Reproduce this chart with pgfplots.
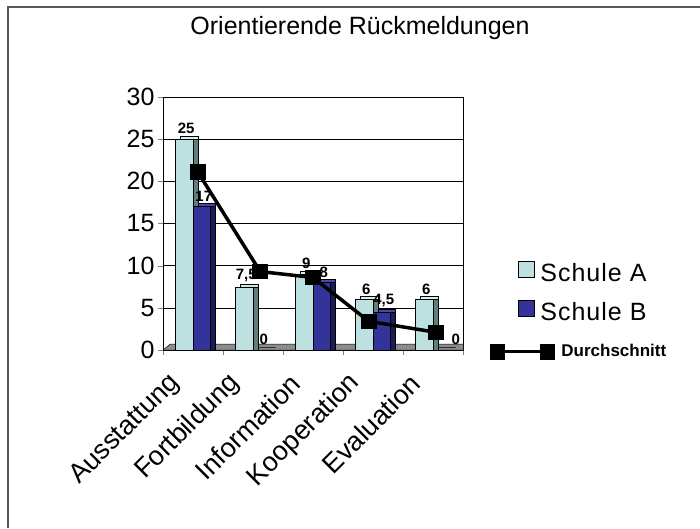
\documentclass[border=0pt]{standalone}
\usepackage{fontspec}
\setmainfont{Liberation Sans}
\newfontfamily\legendfont[LetterSpace=4]{Liberation Sans}
\usepackage{pgfplots}
\pgfplotsset{compat=1.18}
\definecolor{colA}{HTML}{BDE0E0}
\definecolor{colAside}{HTML}{5F7F7F}
\definecolor{colAtop}{HTML}{D6EEEE}
\definecolor{colB}{HTML}{333399}
\definecolor{colBside}{HTML}{1C1C5C}
\definecolor{colBtop}{HTML}{4848A8}
\definecolor{floorgray}{HTML}{8C8C8C}
\begin{document}
\begin{tikzpicture}[x=1pt,y=1pt]
\path[use as bounding box] (0,0) rectangle (700,528);
\draw[line width=1.5pt, black!65] (8,0) -- (8,521) -- (700,521);
\node[font=\fontsize{25}{28}\selectfont] at (360,500) {Orientierende Rückmeldungen};
\begin{axis}[
  at={(163pt,178pt)}, anchor=south west,
  scale only axis, width=300pt, height=253pt,
  xmin=-0.5, xmax=4.5, ymin=0, ymax=30,
  ytick={0,5,...,30},
  xtick={0,1,2,3,4},
  xticklabels={Ausstattung,Fortbildung,Information,Kooperation,Evaluation},
  minor xtick={-0.5,0.5,1.5,2.5,3.5,4.5},
  major x tick style={draw=none},
  minor tick length=5pt, major tick length=5pt,
  tick align=outside, tick pos=left,
  ymajorgrids,
  grid style={black, line width=0.6pt},
  axis line style={black, line width=0.8pt},
  /pgf/number format/assume math mode=true,
  /pgf/number format/use comma,
  yticklabel style={font=\fontsize{25}{25}\selectfont},
  xticklabel style={font=\fontsize{27}{27}\selectfont, rotate=45, anchor=east, xshift=-26pt, yshift=-5pt},
  nodes near coords style={font=\bfseries\fontsize{15}{15}\selectfont, inner sep=2pt, yshift=3pt, xshift=2pt},
  legend style={at={(axis description cs:1.173,0.362)}, anchor=north west, draw=none, fill=none,
    font=\fontsize{25}{28}\selectfont, row sep=15pt},
  legend cell align=left,
]
% floor
\addplot[fill=floorgray, draw=black, line width=0.4pt, forget plot] coordinates {(-0.5,0) (4.5,0) (4.58,0.7) (-0.38,0.7)} -- cycle;
% Schule A
\addplot[ybar, bar width=17.5pt, bar shift=-3.75pt, yshift=3pt, fill=colAtop, draw=black, line width=0.4pt, forget plot]
  coordinates {(0,25) (1,7.5) (2,9) (3,6) (4,6)};
\addplot[ybar, bar width=17.5pt, bar shift=-3.75pt, fill=colAside, draw=black, line width=0.4pt, forget plot]
  coordinates {(0,25) (1,7.5) (2,9) (3,6) (4,6)};
\addplot[ybar, bar width=17.5pt, bar shift=-8.75pt, fill=colA, draw=black, line width=0.4pt,
  legend image code/.code={\path[draw=none,fill=none] (0pt,-4pt) rectangle (20pt,12pt);
    \draw[fill=colA, draw=black, line width=0.6pt] (0pt,-4pt) rectangle (16pt,12pt);}]
  coordinates {(0,25) (1,7.5) (2,9) (3,6) (4,6)};
\addlegendentry{\legendfont Schule A}
% Schule B
\addplot[ybar, bar width=17.5pt, bar shift=13.75pt, yshift=3pt, fill=colBtop, draw=black, line width=0.4pt, forget plot]
  coordinates {(0,17) (1,0) (2,8) (3,4.5) (4,0)};
\addplot[ybar, bar width=17.5pt, bar shift=13.75pt, fill=colBside, draw=black, line width=0.4pt, forget plot]
  coordinates {(0,17) (1,0) (2,8) (3,4.5) (4,0)};
\addplot[ybar, bar width=17.5pt, bar shift=8.75pt, fill=colB, draw=black, line width=0.4pt,
  legend image code/.code={\path[draw=none,fill=none] (0pt,-4pt) rectangle (20pt,12pt);
    \draw[fill=colB, draw=black, line width=0.6pt] (0pt,-4pt) rectangle (16pt,12pt);}]
  coordinates {(0,17) (1,0) (2,8) (3,4.5) (4,0)};
\addlegendentry{\legendfont Schule B}
% Durchschnitt
\addplot[black, line width=3.5pt, mark=square*, mark size=6pt, mark options={solid},
  legend image code/.code={\path[draw=none,fill=none] (0pt,-4pt) rectangle (20pt,12pt);
    \draw[overlay, black, line width=3pt] (-21pt,-1pt) -- (29pt,-1pt);
    \fill[overlay, black] (-27pt,-7pt) rectangle (-15pt,5pt);
    \fill[overlay, black] (23pt,-7pt) rectangle (35pt,5pt);}]
  coordinates {(0.08,21.1) (1.12,9.3) (2.0,8.6) (2.93,3.4) (4.05,2.1)};
\addlegendentry{\hspace{21pt}\bfseries\fontsize{17}{20}\selectfont Durchschnitt}
% value labels (drawn on top)
\addplot[draw=none, mark=none, xshift=-8.75pt, nodes near coords, forget plot]
  coordinates {(0,25) (1,7.5) (2,9) (3,6) (4,6)};
\addplot[draw=none, mark=none, xshift=8.75pt, nodes near coords, forget plot]
  coordinates {(0,17) (1,0) (2,8) (3,4.5) (4.2,0)};
\end{axis}
\end{tikzpicture}
\end{document}
